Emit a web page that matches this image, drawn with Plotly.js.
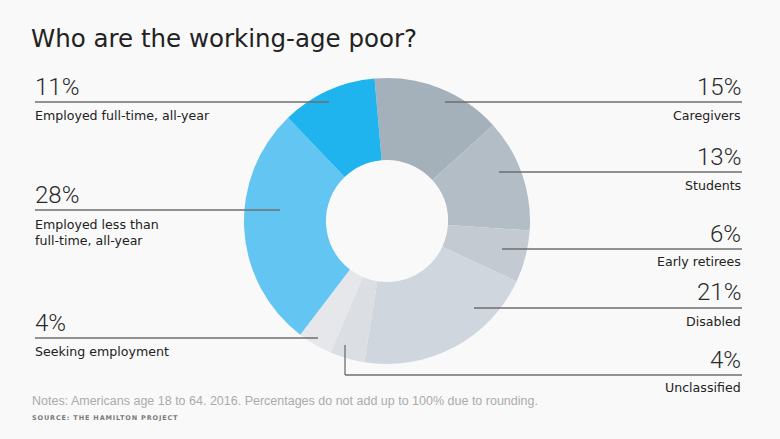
<!DOCTYPE html>
<html>
<head>
<meta charset="utf-8">
<script src="https://cdn.plot.ly/plotly-3.0.1.min.js"></script>
<style>
  html, body { margin: 0; padding: 0; background: #f9f9f9; }
  #chart { width: 780px; height: 439px; }
</style>
</head>
<body>
<div id="chart"></div>
<script>
// ---- data ----
const categories = ["Caregivers", "Students", "Early retirees", "Disabled", "Unclassified",
                    "Seeking employment", "Employed less than<br>full-time, all-year", "Employed full-time, all-year"];
const values = [15, 13, 6, 21, 4, 4, 28, 11];
const colors = ["#a4b1bb", "#b3bdc6", "#c3cad2", "#cfd6de", "#dbdfe3", "#e5e7ea", "#63c5f2", "#20b4ef"];

// ---- label layout (pixel positions) ----
const side   = ["right", "right", "right", "right", "right", "left", "left", "left"];
const pctY   = [87, 157, 234, 292, 360, 323, 195, 87];
const lineY  = [102, 172, 249, 308, 375, 338, 210, 102];
const labY   = [115, 185, 261, 321, 387, 351, 232, 115];
const lineIn = [445, 499, 502, 474, 345, 318, 280, 329];

const W = 780, H = 439;
const px = x => x / W;
const py = y => 1 - y / H;
const cx = 387, cy = 221, R = 143;

const annotations = [];
const shapes = [];
const LEFT_X = 34, RIGHT_X = 742;
for (let i = 0; i < categories.length; i++) {
  const isLeft = side[i] === "left";
  const ax = isLeft ? LEFT_X : RIGHT_X;
  annotations.push({
    xref: "paper", yref: "paper", x: px(ax), y: py(pctY[i]),
    xanchor: isLeft ? "left" : "right", yanchor: "middle",
    text: values[i] + "%", showarrow: false, borderpad: 0,
    font: { family: "Roboto, 'Liberation Sans', sans-serif", size: 24, color: "#2a2a2a", weight: 300 }
  });
  annotations.push({
    xref: "paper", yref: "paper", x: px(ax), y: py(labY[i]),
    xanchor: isLeft ? "left" : "right", yanchor: "middle", align: isLeft ? "left" : "right",
    text: categories[i], showarrow: false, borderpad: 0,
    font: { family: "'DejaVu Sans', sans-serif", size: 12.6, color: "#222" }
  });
  const x0 = isLeft ? 35 : lineIn[i];
  const x1 = isLeft ? lineIn[i] : RIGHT_X;
  shapes.push({ type: "line", xref: "paper", yref: "paper",
    x0: px(x0), x1: px(x1), y0: py(lineY[i]), y1: py(lineY[i]),
    line: { color: "#6e6e6e", width: 1.3 } });
  if (categories[i] === "Unclassified") {
    shapes.push({ type: "line", xref: "paper", yref: "paper",
      x0: px(lineIn[i]), x1: px(lineIn[i]), y0: py(345), y1: py(lineY[i]),
      line: { color: "#6e6e6e", width: 1.3 } });
  }
}

annotations.push({
  xref: "paper", yref: "paper", x: px(31), y: py(401), xanchor: "left", yanchor: "middle",
  text: "Notes: Americans age 18 to 64. 2016. Percentages do not add up to 100% due to rounding.",
  showarrow: false, borderpad: 0,
  font: { family: "'Liberation Sans', Arial, sans-serif", size: 12.5, color: "#ababab" }
});
annotations.push({
  xref: "paper", yref: "paper", x: px(31), y: py(418), xanchor: "left", yanchor: "middle",
  text: "SOURCE: THE HAMILTON PROJECT", showarrow: false, borderpad: 0,
  font: { family: "'DejaVu Sans', sans-serif", size: 6.5, color: "#7a7a7a", weight: 700 }
});

const data = [{
  type: "pie",
  labels: categories,
  values: values,
  sort: false,
  direction: "clockwise",
  rotation: -5,
  hole: 0.427,
  textinfo: "none",
  hoverinfo: "label+value",
  marker: { colors: colors, line: { width: 0 } },
  domain: { x: [px(cx - R), px(cx + R)], y: [py(cy + R), py(cy - R)] },
  showlegend: false
}];

const layout = {
  width: W, height: H,
  margin: { l: 0, r: 0, t: 0, b: 0 },
  paper_bgcolor: "#f9f9f9",
  plot_bgcolor: "#f9f9f9",
  showlegend: false,
  title: {
    text: "Who are the working-age poor?",
    xref: "paper", yref: "container", x: px(31), xanchor: "left",
    y: 1 - 38 / H, yanchor: "middle",
    font: { family: "'DejaVu Sans', sans-serif", size: 24.5, color: "#222" }
  },
  annotations: annotations,
  shapes: shapes
};

Plotly.newPlot("chart", data, layout, { displayModeBar: false, staticPlot: true }).then(() => {
  document.querySelectorAll(".annotation-text").forEach(el => {
    if (el.textContent.indexOf("SOURCE") === 0) {
      const b1 = el.getBBox();
      el.style.letterSpacing = "0.85px";
      const b2 = el.getBBox();
      el.setAttribute("transform", "translate(" + (b1.x - b2.x) + ",0)");
    }
  });
});
</script>
</body>
</html>
